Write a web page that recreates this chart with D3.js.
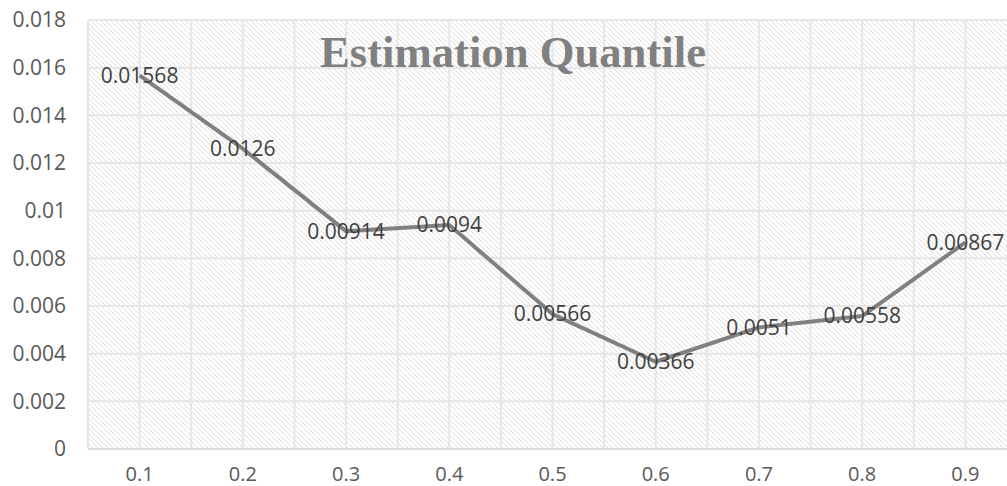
<!DOCTYPE html>
<html><head><meta charset="utf-8">
<script src="https://cdn.jsdelivr.net/npm/d3@7"></script>
<style>body{margin:0;background:#fff}svg{display:block}</style>
</head><body>
<script>
const categories = ["0.1","0.2","0.3","0.4","0.5","0.6","0.7","0.8","0.9"];
const values = [0.01568,0.0126,0.00914,0.0094,0.00566,0.00366,0.0051,0.00558,0.00867];
const labels = ["0.01568","0.0126","0.00914","0.0094","0.00566","0.00366","0.0051","0.00558","0.00867"];
const yTicks = [0,0.002,0.004,0.006,0.008,0.01,0.012,0.014,0.016,0.018];
const yTickLabels = ["0","0.002","0.004","0.006","0.008","0.01","0.012","0.014","0.016","0.018"];
const title = "Estimation Quantile";

const W=1007,H=486;
const pL=88,pR=1017,pT=20,pB=449;
const svg=d3.select("body").append("svg").attr("width",W).attr("height",H);
const defs=svg.append("defs");
const pat=defs.append("pattern").attr("id","hatch").attr("patternUnits","userSpaceOnUse")
  .attr("width",5).attr("height",5);
pat.append("rect").attr("width",5).attr("height",5).attr("fill","#fff");
pat.append("path").attr("d","M-1,-1 L6,6 M-1,4 L1,6 M4,-1 L6,1").attr("stroke","#dcdcdc").attr("stroke-width",1);

const x=d3.scaleBand().domain(categories).range([pL,pR]);
const y=d3.scaleLinear().domain([0,0.018]).range([pB,pT]);
const cx=d=>x(d)+x.bandwidth()/2;

svg.append("rect").attr("x",pL).attr("y",pT).attr("width",pR-pL).attr("height",pB-pT).attr("fill","url(#hatch)");

const g=svg.append("g");
g.selectAll(".hg").data(yTicks.slice(1)).join("line")
  .attr("x1",pL).attr("x2",pR).attr("y1",d=>y(d)).attr("y2",d=>y(d))
  .attr("stroke","#e6e6e6").attr("stroke-width",2);
const vx=[];
categories.forEach(c=>{vx.push(x(c));vx.push(cx(c));});
g.selectAll(".vg").data(vx).join("line")
  .attr("x1",d=>d).attr("x2",d=>d).attr("y1",pT).attr("y2",pB)
  .attr("stroke","#e6e6e6").attr("stroke-width",2);
svg.append("line").attr("x1",pL).attr("x2",pR).attr("y1",pB).attr("y2",pB)
  .attr("stroke","#d9d9d9").attr("stroke-width",2);

svg.selectAll(".yt").data(yTicks).join("text")
  .attr("x",66).attr("y",d=>y(d)).attr("dy","0.35em").attr("text-anchor","end")
  .attr("font-family","Open Sans").attr("font-size",21).attr("fill","#595959")
  .text((d,i)=>yTickLabels[i]);
svg.selectAll(".xt").data(categories).join("text")
  .attr("x",d=>cx(d)).attr("y",481).attr("text-anchor","middle")
  .attr("font-family","Open Sans").attr("font-size",20).attr("fill","#595959")
  .text(d=>d);

svg.append("text").attr("x",513).attr("y",67).attr("text-anchor","middle")
  .attr("font-family","Liberation Serif").attr("font-weight","bold").attr("font-size",45)
  .attr("textLength",386).attr("lengthAdjust","spacingAndGlyphs")
  .attr("fill","#808080").text(title);

const line=d3.line().x((d,i)=>cx(categories[i])).y(d=>y(d));
svg.append("path").datum(values).attr("d",line).attr("fill","none")
  .attr("stroke","#808080").attr("stroke-width",4).attr("stroke-linejoin","round");

svg.selectAll(".dl").data(values).join("text")
  .attr("x",(d,i)=>cx(categories[i])).attr("y",d=>y(d)).attr("dy","0.35em").attr("text-anchor","middle")
  .attr("font-family","Open Sans").attr("font-size",21).attr("fill","#404040")
  .text((d,i)=>labels[i]);
</script>
</body></html>
